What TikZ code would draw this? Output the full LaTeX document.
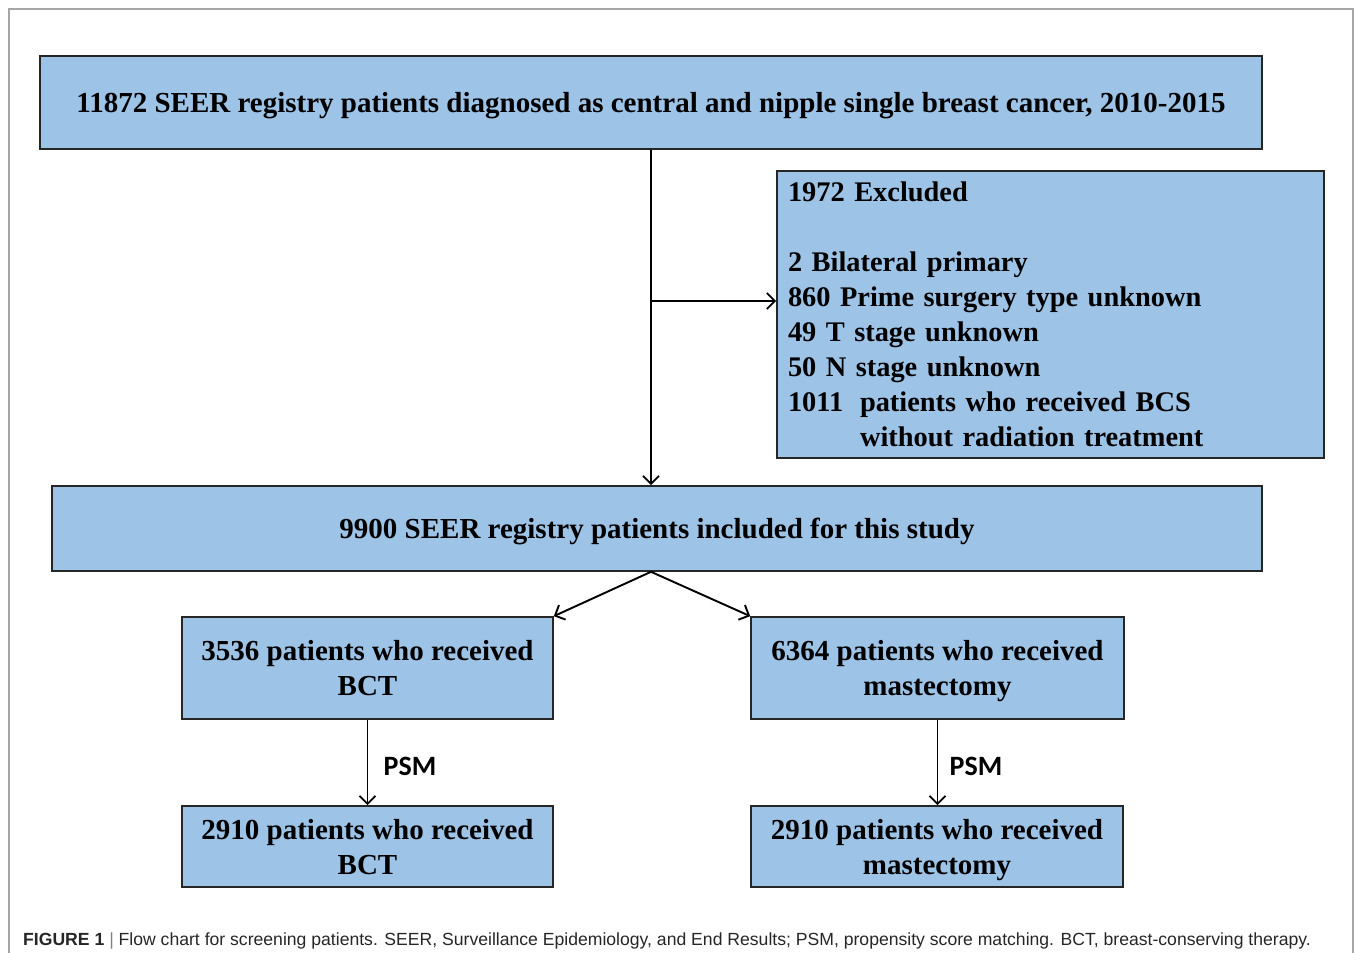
\documentclass[tikz,border=0pt]{standalone}
\usepackage{fontspec}
\setmainfont{Liberation Serif}
\newfontfamily\calfont{Carlito}
\newfontfamily\capfont{Liberation Sans}
\usetikzlibrary{arrows.meta}
\definecolor{boxblue}{RGB}{157,195,230}
\newcommand{\tallstrut}{\rule{0pt}{30.5pt}}

\begin{document}
\begin{tikzpicture}[x=1pt,y=-1pt,
        box/.style={draw=black!85,line width=1.6pt,fill=boxblue,align=center,
            inner sep=0pt,font=\fontsize{29}{35}\selectfont\bfseries},
        arr/.style={line width=1.9pt,-{Straight Barb[length=8pt,width=16pt]}},
        psm/.style={font=\fontsize{28}{32}\selectfont\calfont\bfseries}]
\useasboundingbox (0,0) rectangle (1355,953);
\draw[black!35,line width=1.2pt] (9,953) -- (9,9) -- (1353,9) -- (1353,953);

% boxes
\node[box,minimum width=1222pt,minimum height=93pt] (seer) at (651,102.5)
    {\tallstrut 11872 SEER registry patients diagnosed as central and nipple single breast cancer, 2010-2015\strut};
\node[box,align=left,text width=525pt,inner xsep=11pt,minimum height=287pt,
    font=\fontsize{28.4}{35}\selectfont\bfseries] (excl) at (1050.5,314.5)
    {1972 Excluded\\[35pt]
     2 Bilateral primary\\
     860 Prime surgery type unknown\\
     49 T stage unknown\\
     50 N stage unknown\\
     \makebox[72pt][l]{1011}patients who received BCS\\
     \hspace*{72pt}without radiation treatment};
\node[box,minimum width=1210pt,minimum height=85pt] (incl) at (657,528.5)
    {\tallstrut 9900 SEER registry patients included for this study\strut};

\node[box,minimum width=371pt,minimum height=102pt] (bct) at (367.5,668)
    {\tallstrut 3536 patients who received\\BCT\strut};
\node[box,minimum width=373pt,minimum height=102pt] (mast) at (937.5,668)
    {\tallstrut 6364 patients who received\\mastectomy\strut};
\node[box,minimum width=371pt,minimum height=81pt] (bctm) at (367.5,846.5)
    {\tallstrut 2910 patients who received\\BCT\strut};
\node[box,minimum width=372pt,minimum height=81pt] (mastm) at (937,846.5)
    {\tallstrut 2910 patients who received\\mastectomy\strut};

% connectors
\coordinate (br) at (651,301);
\coordinate (split) at (seer.south |- incl.south);
\draw[arr] (seer.south) -- (seer.south |- incl.north);
\draw[arr] (br) -- (br -| excl.west);
\draw[arr] (split) -- (bct.north east);
\draw[arr] (split) -- (mast.north west);
\draw[arr] (bct.south) -- (bct.south |- bctm.north);
\draw[arr] (mast.south) -- (mast.south |- mastm.north);
\node[psm] (psma) at (410,766) {PSM};
\node[psm] (psmb) at (976,766) {PSM};

% caption
\node[anchor=base west,inner sep=0pt,text=black!85,font=\fontsize{17.6}{21}\selectfont\capfont] (cap) at (23,945)
    {\textbf{FIGURE 1} {\color{black!50}|} Flow chart for screening patients. SEER, Surveillance Epidemiology, and End Results; PSM, propensity score matching. BCT, breast-conserving therapy.};
\end{tikzpicture}
\end{document}
